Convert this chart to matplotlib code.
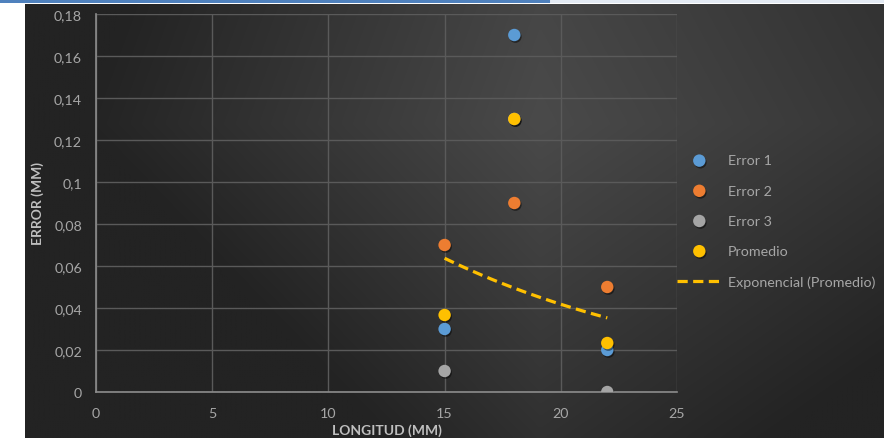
"""Scatter of measurement error vs length with an exponential trend of the average."""

import numpy as np
import matplotlib
matplotlib.use("Agg")
import matplotlib.pyplot as plt
import matplotlib.patheffects as pe
from matplotlib.ticker import FuncFormatter, MultipleLocator

# Data
longitud = [15, 18, 22]
error_1 = [0.03, 0.17, 0.02]
error_2 = [0.07, 0.09, 0.05]
error_3 = [0.01, 0.13, 0.0]
promedio = [np.mean(v) for v in zip(error_1, error_2, error_3)]

series = [
    ("Error 1", error_1, "#5B9BD5"),
    ("Error 2", error_2, "#ED7D31"),
    ("Error 3", error_3, "#A5A5A5"),
    ("Promedio", promedio, "#FFC000"),
]

plt.rcParams["font.family"] = ["Lato", "DejaVu Sans"]

W, H = 884, 439
fig = plt.figure(figsize=(W / 100, H / 100), dpi=100)
fig.patch.set_facecolor("white")

# Header strip above the chart
strip = fig.add_axes([0, 1 - 3.5 / H, 1, 3.5 / H])
strip.axis("off")
strip.set_xlim(0, W)
strip.set_ylim(0, 1)
strip.axvspan(0, 549, color="#4F81BD")
strip.axvspan(551, W, color="#E3EAF3")

# Dark gradient background of the chart
bg = fig.add_axes([25 / W, 0, 1 - 25 / W, (H - 5) / H])
bg.axis("off")
gx = np.linspace(-1, 1, 400)
gy = np.linspace(-1, 1, 200)
X, Y = np.meshgrid(gx, gy)
cx, cy = 0.2, -0.45
dx = np.abs(X - cx) / (1 + np.sign(X - cx) * cx)
dy = np.abs(Y - cy) / (1 + np.sign(Y - cy) * cy)
r = np.clip(0.75 * dx + 0.25 * dy, 0, 1)
inner, outer = 0x4A / 255, 0x23 / 255
shade = inner + (outer - inner) * r
bg.imshow(np.dstack([shade] * 3), aspect="auto", extent=[0, 1, 0, 1],
          interpolation="bilinear")
bg.set_xlim(0, 1)
bg.set_ylim(0, 1)

ax = fig.add_axes([96 / W, 1 - 393 / H, (677 - 96) / W, (393 - 15) / H])
ax.patch.set_alpha(0)

shadow = [pe.SimplePatchShadow(offset=(0.8, -1.2), shadow_rgbFace="black", alpha=0.45),
          pe.Normal()]
for label, values, color in series:
    ax.scatter(longitud, values, s=80, color=color, label=label, zorder=3,
               linewidths=0, path_effects=shadow)

# Exponential trend line fitted on the average
b, ln_a = np.polyfit(longitud, np.log(promedio), 1)
xt = np.linspace(min(longitud), max(longitud), 100)
ax.plot(xt, np.exp(ln_a) * np.exp(b * xt), color="#FFC000", lw=2.3,
        ls=(0, (3.2, 1.7)), label="Exponencial (Promedio)", zorder=2)

ax.set_xlim(0, 25)
ax.set_ylim(0, 0.18)
ax.xaxis.set_major_locator(MultipleLocator(5))
ax.yaxis.set_major_locator(MultipleLocator(0.02))
ax.yaxis.set_major_formatter(FuncFormatter(lambda v, p: f"{round(v, 2):g}".replace(".", ",")))

ax.grid(True, color="#5A5A5A", lw=1)
ax.set_axisbelow(True)
for side in ("top", "right"):
    ax.spines[side].set_visible(False)
for side in ("left", "bottom"):
    ax.spines[side].set_color("#8C8C8C")
    ax.spines[side].set_linewidth(1.2)
ax.tick_params(length=0, colors="#A6A6A6", labelsize=10.3)
ax.tick_params(axis="y", pad=10)
ax.tick_params(axis="x", pad=11)

ax.set_xlabel("LONGITUD (MM)", color="#BFBFBF", fontsize=10, fontweight="bold", labelpad=3)
ax.set_ylabel("ERROR (MM)", color="#BFBFBF", fontsize=10, fontweight="bold", labelpad=7)

leg = ax.legend(loc="center left", bbox_to_anchor=(670 / W, 1 - 222 / H),
                bbox_transform=fig.transFigure, frameon=False, fontsize=10.3,
                handlelength=3.1, handletextpad=0.45, labelspacing=1.27,
                borderpad=0, labelcolor="#A6A6A6")

fig.savefig("out.png", dpi=100)
